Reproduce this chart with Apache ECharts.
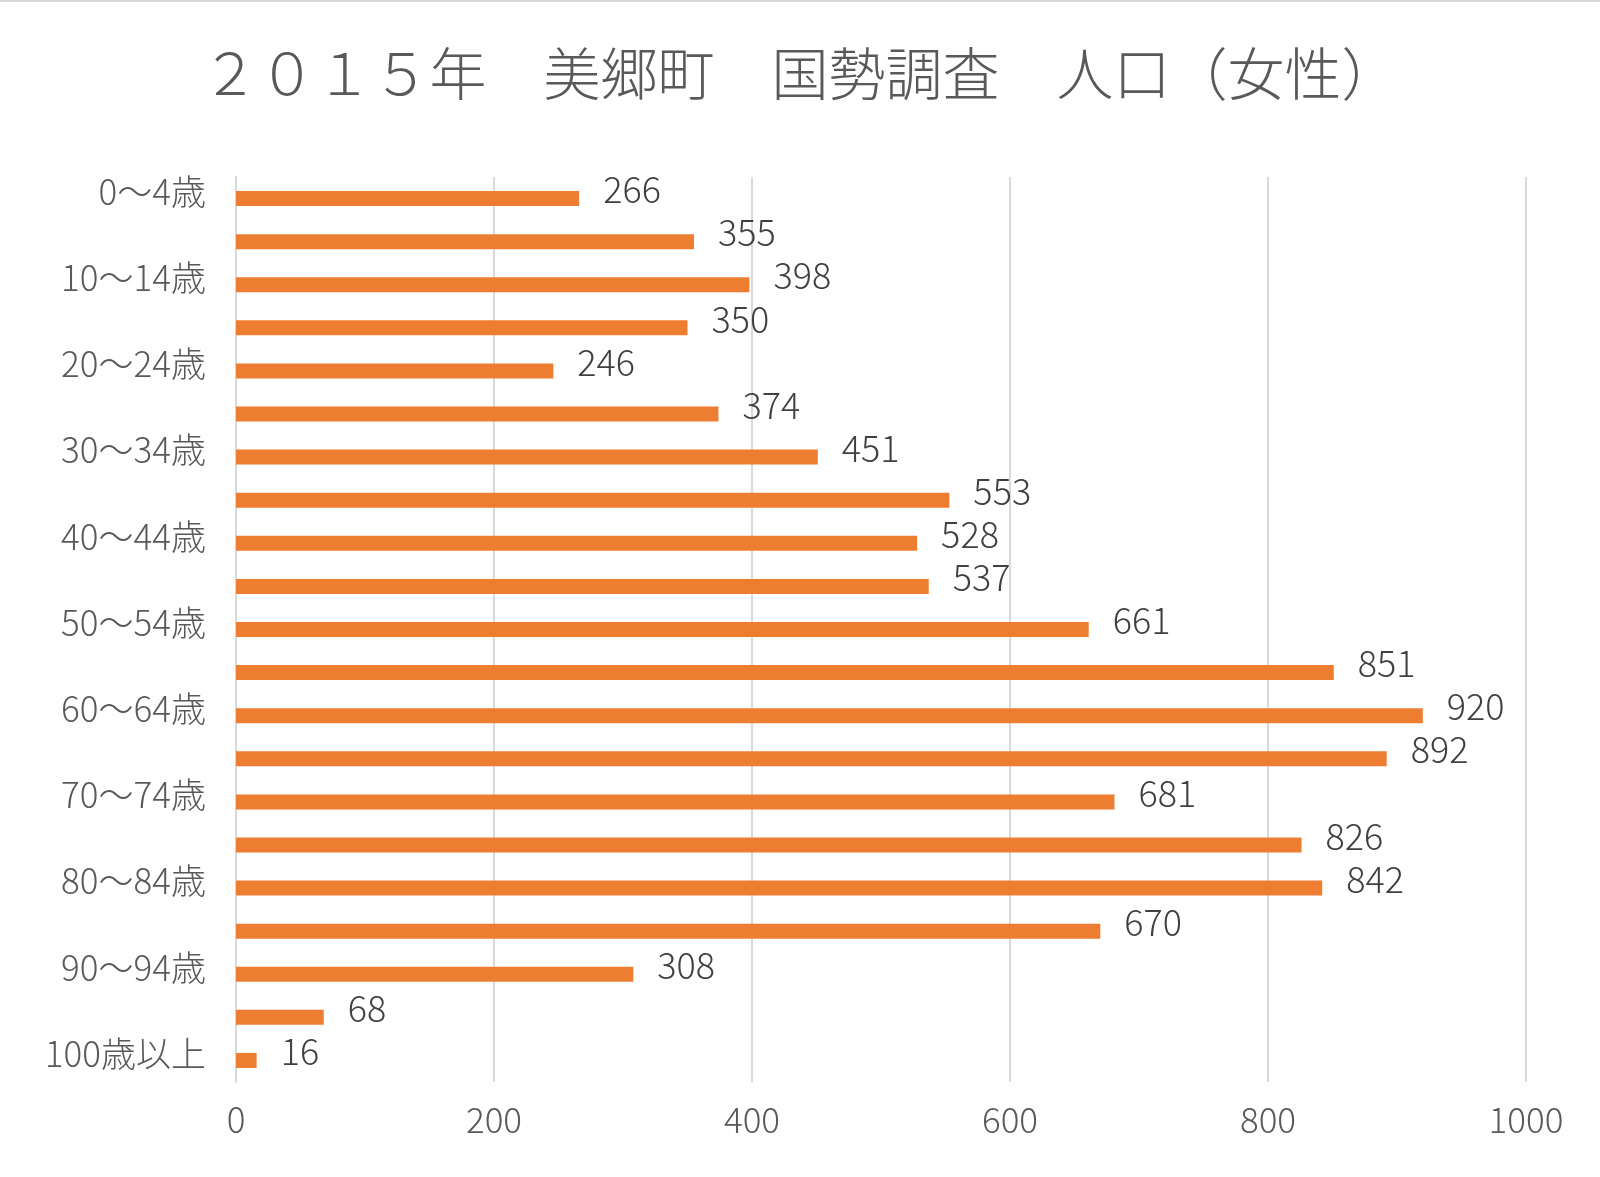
<!DOCTYPE html>
<html><head><meta charset="utf-8">
<script src="https://cdn.jsdelivr.net/npm/echarts@6/dist/echarts.min.js"></script>
<style>html,body{margin:0;padding:0;background:#fff}#c{width:1600px;height:1177px}</style>
</head><body><div id="c"></div>
<script>
const titleText = '２０１５年　美郷町　国勢調査　人口（女性）';
const categories = ['0～4歳','5～9歳','10～14歳','15～19歳','20～24歳','25～29歳','30～34歳','35～39歳','40～44歳','45～49歳','50～54歳','55～59歳','60～64歳','65～69歳','70～74歳','75～79歳','80～84歳','85～89歳','90～94歳','95～99歳','100歳以上'];
const values = [266,355,398,350,246,374,451,553,528,537,661,851,920,892,681,826,842,670,308,68,16];
const xTicks = [0,200,400,600,800,1000];

const font = '"Noto Sans CJK JP", "Noto Sans", sans-serif';
const chart = echarts.init(document.getElementById('c'), null, {renderer:'canvas'});
chart.setOption({
  animation:false,
  backgroundColor:'#fff',
  graphic:[{type:'rect',shape:{x:0,y:0,width:1600,height:2},style:{fill:'#d9d9d9'}}],
  title:{text:titleText,left:'center',top:40,textStyle:{fontFamily:font,fontSize:57,fontWeight:300,color:'#595959'}},
  grid:{left:236,right:74,top:177,bottom:95,containLabel:false},
  xAxis:{type:'value',min:xTicks[0],max:xTicks[xTicks.length-1],interval:200,
    axisLine:{show:false},axisTick:{show:false},
    splitLine:{show:true,lineStyle:{color:'#d9d9d9',width:2}},
    axisLabel:{formatter:v=>String(v),fontFamily:font,fontSize:35,fontWeight:300,color:'#595959',margin:20}},
  yAxis:{type:'category',data:categories,inverse:true,
    axisLine:{show:true,lineStyle:{color:'#d9d9d9',width:2}},axisTick:{show:false},
    axisLabel:{interval:1,fontFamily:font,fontSize:35,fontWeight:300,color:'#595959',margin:30,verticalAlign:'bottom',lineHeight:14}},
  series:[{type:'bar',data:values,barWidth:15,itemStyle:{color:'#ED7D31'},
    label:{show:true,position:'right',distance:24,offset:[0,-9],fontFamily:font,fontSize:36,fontWeight:300,color:'#404040'}}]
});
</script></body></html>
